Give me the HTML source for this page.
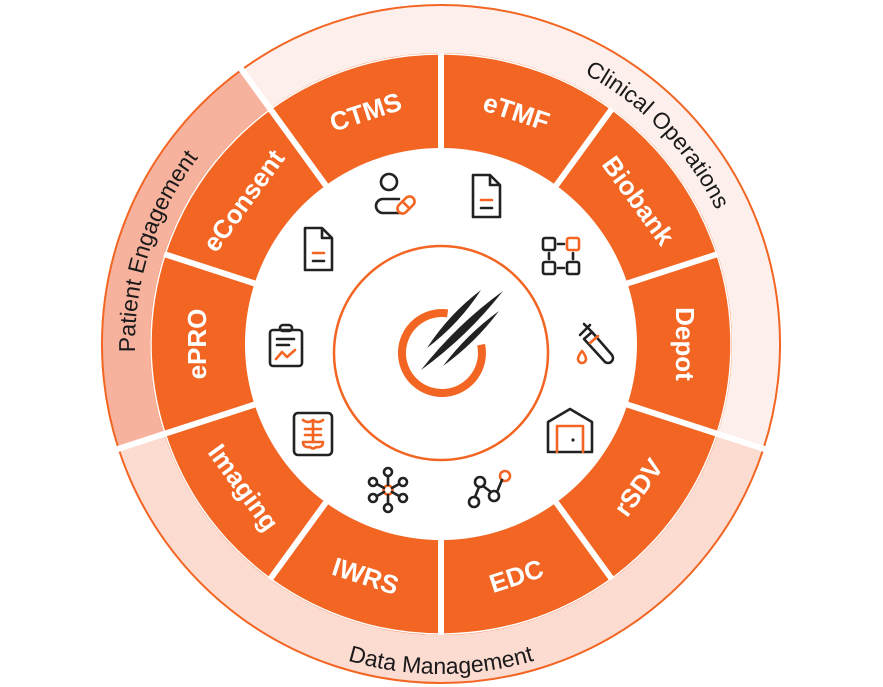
<!DOCTYPE html>
<html><head><meta charset="utf-8">
<style>
html,body{margin:0;padding:0;background:#fff;}
svg{display:block;}
.seg{font-family:"Liberation Sans",sans-serif;font-weight:bold;font-size:26px;fill:#fff;}
.cat{font-family:"Liberation Sans",sans-serif;font-size:23px;fill:#1a1a1a;}
.ic{fill:none;stroke:#222;stroke-width:2.6;stroke-linecap:round;stroke-linejoin:round;}
.io{fill:none;stroke:#f26522;stroke-width:2.6;stroke-linecap:round;stroke-linejoin:round;}
</style></head>
<body>
<svg id="s" width="883" height="687" viewBox="0 0 883 687" xmlns="http://www.w3.org/2000/svg">
<defs id="d"></defs>
<g id="g"></g>
</svg>
<script>
var CX=441,CY=344;
function P(r,t){var a=t*Math.PI/180;return [CX+r*Math.sin(a),CY-r*Math.cos(a)];}
function f(p){return p[0].toFixed(2)+" "+p[1].toFixed(2);}
function sector(r0,r1,t0,t1){var la=(t1-t0)>180?1:0;
 return "M"+f(P(r1,t0))+" A"+r1+" "+r1+" 0 "+la+" 1 "+f(P(r1,t1))+" L"+f(P(r0,t1))+" A"+r0+" "+r0+" 0 "+la+" 0 "+f(P(r0,t0))+"Z";}
var h="";
h+='<path d="'+sector(290,339,-36,108)+'" fill="#fdf0ec" stroke="#f26522" stroke-width="2"/>';
h+='<path d="'+sector(290,339,108,252)+'" fill="#fcdbd1" stroke="#f26522" stroke-width="2"/>';
h+='<path d="'+sector(290,339,252,324)+'" fill="#f7b29e" stroke="#f26522" stroke-width="2"/>';
h+='<path d="'+sector(196,290,0,359.99)+'" fill="#f26522"/>';
h+='<circle cx="'+CX+'" cy="'+CY+'" r="290" fill="none" stroke="#fff" stroke-width="1.5"/>';
for(var i=0;i<10;i++){var t=i*36;var rr=(t==324||t==108||t==252)?345:291;var a=P(190,t),b=P(rr,t);
 h+='<line x1="'+a[0]+'" y1="'+a[1]+'" x2="'+b[0]+'" y2="'+b[1]+'" stroke="#fff" stroke-width="6"/>';}
var L=["eTMF","Biobank","Depot","rSDV","EDC","IWRS","Imaging","ePRO","eConsent","CTMS"];
for(var i=0;i<10;i++){var t=18+i*36;var p=P(244,t);var rot=(t>90&&t<270)?t-180:t;
 h+='<text class="seg" x="'+p[0]+'" y="'+p[1]+'" text-anchor="middle" dominant-baseline="central" transform="rotate('+rot+' '+p[0]+' '+p[1]+')">'+L[i]+'</text>';}
function arcPath(r,t0,t1,cw){return "M"+f(P(r,t0))+" A"+r+" "+r+" 0 0 "+(cw?1:0)+" "+f(P(r,t1));}
var d='<path id="pc" d="'+arcPath(306,0,92,1)+'"/><path id="pp" d="'+arcPath(306,248,328,1)+'"/><path id="pd" d="'+arcPath(330,240,120,0)+'"/>';
document.getElementById("d").innerHTML=d;
h+='<text class="cat"><textPath href="#pc" startOffset="50%" text-anchor="middle">Clinical Operations</textPath></text>';
h+='<text class="cat"><textPath href="#pp" startOffset="50%" text-anchor="middle">Patient Engagement</textPath></text>';
h+='<text class="cat"><textPath href="#pd" startOffset="50%" text-anchor="middle">Data Management</textPath></text>';
h+='<circle cx="441" cy="353" r="107" fill="none" stroke="#f26522" stroke-width="2.5"/>';
(function(){var c=[442,353],r=40;function q(t){var a=t*Math.PI/180;return (c[0]+r*Math.sin(a)).toFixed(1)+" "+(c[1]-r*Math.cos(a)).toFixed(1);}
 h+='<path d="M'+q(8)+' A40 40 0 1 0 '+q(78)+'" fill="none" stroke="#f26522" stroke-width="8"/>';})();
function lens(x1,y1,x2,y2,w){var dx=x2-x1,dy=y2-y1,L=Math.hypot(dx,dy),nx=-dy/L*w,ny=dx/L*w,mx=(x1+x2)/2,my=(y1+y2)/2;
 return '<path d="M'+x1+' '+y1+' Q'+(mx+nx)+' '+(my+ny)+' '+x2+' '+y2+' Q'+(mx-nx)+' '+(my-ny)+' '+x1+' '+y1+'Z" fill="#222"/>';}
h+=lens(427,348,481,290,7);
h+=lens(421,370,503,291,8);
h+=lens(443,366,499,311,6);
document.getElementById("g").innerHTML=h;
</script>
<svg style="position:absolute;left:0;top:0" width="883" height="687" viewBox="0 0 883 687" xmlns="http://www.w3.org/2000/svg">
<g transform="translate(393,197)">
<circle class="ic" cx="-4" cy="-15" r="8"/>
<path class="ic" d="M8 16 H-10 A7 7 0 0 1 -10 2 H6"/>
<g transform="rotate(-45 13 8)"><rect class="io" x="3" y="3" width="20" height="10" rx="5"/><line class="io" x1="13" y1="3" x2="13" y2="13"/></g>
</g>
<g transform="translate(486,197)"><path class="ic" d="M-13 -22 H4 L14 -12 V20 H-13Z M4 -22 V-12 H14"/><line class="io" x1="-5" y1="3" x2="6" y2="3"/><line class="ic" x1="-5" y1="11" x2="6" y2="11"/></g>
<g transform="translate(318,250)"><path class="ic" d="M-13 -22 H4 L14 -12 V20 H-13Z M4 -22 V-12 H14"/><line class="io" x1="-5" y1="3" x2="6" y2="3"/><line class="ic" x1="-5" y1="11" x2="6" y2="11"/></g>
<g transform="translate(561,256)"><rect class="ic" x="-18" y="-18" width="12" height="12" rx="2"/><rect class="io" x="6" y="-18" width="12" height="12" rx="2"/><rect class="ic" x="-18" y="6" width="12" height="12" rx="2"/><rect class="ic" x="6" y="6" width="12" height="12" rx="2"/>
<path class="ic" d="M-3 -12 H3 M-3 12 H3 M-12 -3 V3 M12 -3 V3"/></g>
<g transform="translate(596,345)"><path class="ic" d="M-12 -21 L-4 -13 L16 10 A5 5 0 0 1 9 17 L-12 -6 L-4 -13"/><line class="io" x1="-6" y1="-2" x2="2" y2="-9"/><line class="ic" x1="-16" y1="-10" x2="-6" y2="-20"/><path class="io" d="M-14 6 Q-10 11 -10 14 A4 4 0 0 1 -18 14 Q-18 11 -14 6Z"/></g>
<g transform="translate(570,432)"><path class="ic" d="M-22 20 V-10 L0 -23 L22 -10 V20 Z"/><path class="io" d="M-13 20 V-6 H13 V20"/><circle cx="3" cy="8" r="1.6" fill="#222"/></g>
<g transform="translate(488,490)"><circle class="ic" cx="-14" cy="12" r="5"/><circle class="ic" cx="-8" cy="-8" r="5"/><circle class="ic" cx="6" cy="6" r="5"/><circle class="io" cx="17" cy="-14" r="5"/>
<path class="ic" d="M-13 7 L-9 -3 M-5 -4 L3 2 M9 2 L14 -10"/></g>
<g transform="translate(388,490)"><circle class="io" cx="0" cy="0" r="4.5"/>
<g class="ic"><circle cx="0" cy="-18" r="4"/><circle cx="0" cy="18" r="4"/><circle cx="-15" cy="-8" r="4"/><circle cx="15" cy="-8" r="4"/><circle cx="-15" cy="8" r="4"/><circle cx="15" cy="8" r="4"/>
<path d="M0 -5 V-14 M0 5 V14 M-4 -2 L-11 -6 M4 -2 L11 -6 M-4 2 L-11 6 M4 2 L11 6"/></g></g>
<g transform="translate(313,432)"><rect class="ic" x="-19" y="-19" width="38" height="42" rx="4"/>
<path class="io" d="M0 -12 V10 M-10 -12 Q-5 -8 0 -12 Q5 -8 10 -12 M-8 -3 H8 M-8 3 H8 M-10 10 Q-10 16 -3 15 Q0 18 3 15 Q10 16 10 10Z"/></g>
<g transform="translate(286,345)"><rect class="ic" x="-16" y="-15" width="32" height="36" rx="3"/><rect class="ic" x="-6" y="-20" width="12" height="6" rx="3" fill="#fff"/>
<path class="ic" d="M-9 -6 H8 M-9 0 H3"/><path class="io" d="M-10 14 L-4 7 L1 12 L9 5"/></g>
</svg>
</body></html>
